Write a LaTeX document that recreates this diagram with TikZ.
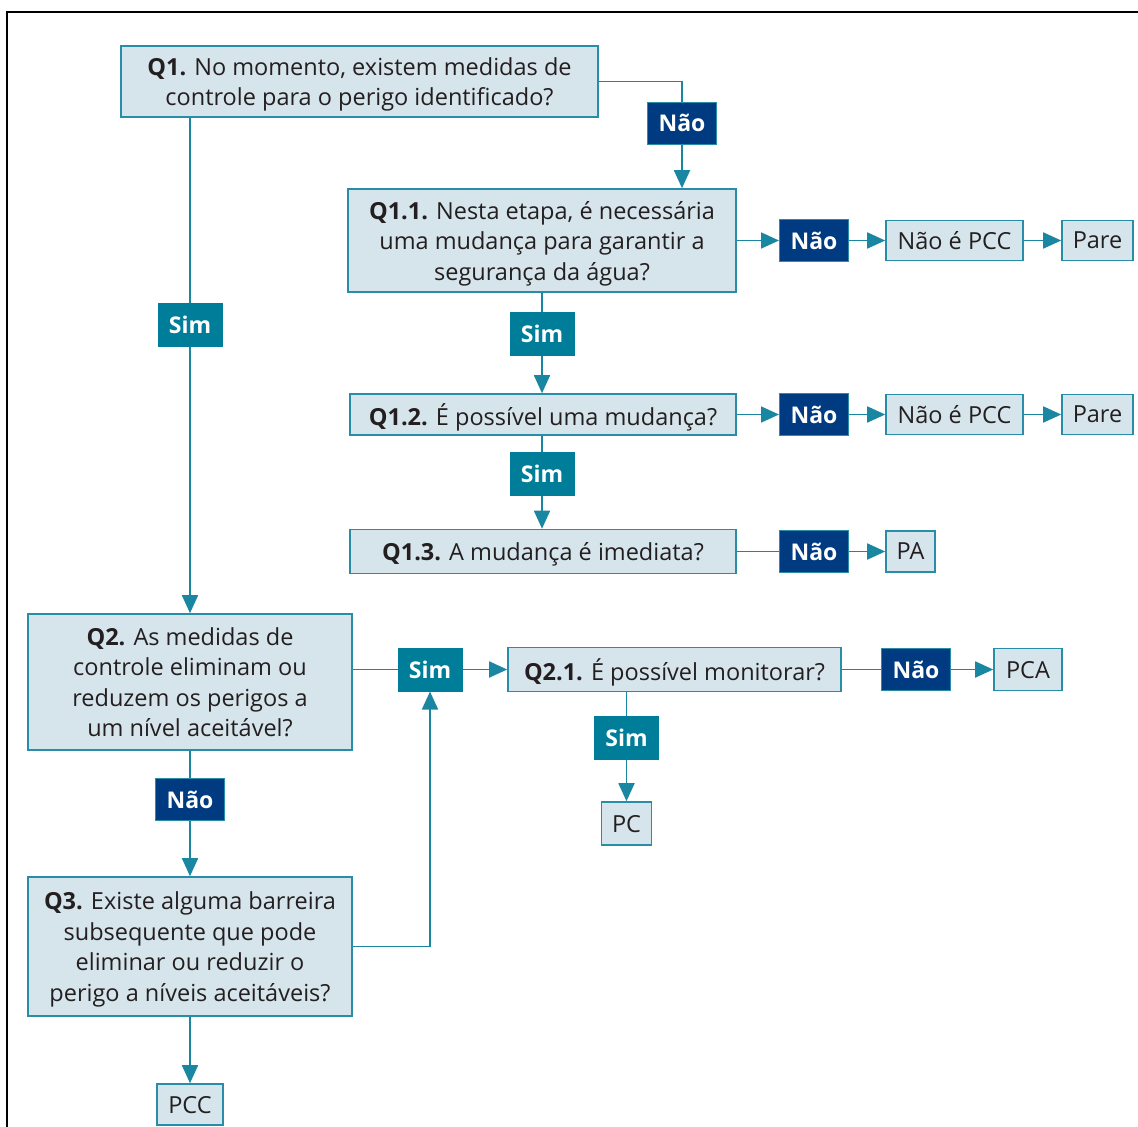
\documentclass[tikz,border=0pt]{standalone}
\usepackage{fontspec}
\setmainfont{Open Sans}
\usetikzlibrary{arrows.meta}
\definecolor{boxfill}{HTML}{D6E4EB}
\definecolor{boxline}{HTML}{2A8DA8}
\definecolor{simfill}{HTML}{007E99}
\definecolor{naofill}{HTML}{003A80}
\definecolor{txt}{HTML}{231F20}
\definecolor{conn}{HTML}{1A87A2}
\tikzset{
  qbox/.style={draw=boxline, fill=boxfill, line width=1.6pt, inner sep=0pt, align=center,
    text=txt, font=\fontsize{23.5}{30.5}\selectfont, text depth=0pt},
  ansbox/.style={qbox},
  simbox/.style={draw=simfill, fill=simfill, line width=1pt, inner sep=0pt, text=white,
    font=\fontsize{23}{26}\selectfont\bfseries, minimum width=64pt, minimum height=43pt},
  naobox/.style={draw=boxline, fill=naofill, line width=1pt, inner sep=0pt, text=white,
    font=\fontsize{23}{26}\selectfont\bfseries, minimum width=69pt, minimum height=42pt},
  conn/.style={draw=conn, line width=1.8pt},
  arr/.style={conn, -{Triangle[length=18pt,width=16pt]}},
}
\begin{document}
\begin{tikzpicture}[x=1pt,y=-1pt]
\useasboundingbox (0,0) rectangle (1138,1127);
\draw[black, line width=2pt] (7,1127) -- (7,12) -- (1138,12);
% question boxes
\node[qbox, minimum width=477pt, minimum height=71pt] (q1) at (359.5,81.5)
  {\textbf{Q1.} No momento, existem medidas de\\controle para o perigo identificado?};
\node[qbox, minimum width=388pt, minimum height=103pt] (q11) at (542,240.5)
  {\textbf{Q1.1.} Nesta etapa, é necessária\\uma mudança para garantir a\\segurança da água?};
\node[qbox, minimum width=386pt, minimum height=41pt] (q12) at (543,414.5)
  {\textbf{Q1.2.} É possível uma mudança?};
\node[qbox, minimum width=386pt, minimum height=44pt] (q13) at (543,551.5)
  {\textbf{Q1.3.} A mudança é imediata?};
\node[qbox, minimum width=324pt, minimum height=136pt] (q2) at (190,682)
  {\textbf{Q2.} As medidas de\\controle eliminam ou\\reduzem os perigos a\\um nível aceitável?};
\node[qbox, minimum width=333pt, minimum height=44pt] (q21) at (674.5,669.5)
  {\textbf{Q2.1.} É possível monitorar?};
\node[qbox, minimum width=324pt, minimum height=139pt] (q3) at (190,946.5)
  {\textbf{Q3.} Existe alguma barreira\\subsequente que pode\\eliminar ou reduzir o\\perigo a níveis aceitáveis?};
% answer boxes
\node[ansbox, minimum width=137pt, minimum height=40pt] (npcc1) at (954.5,240.5) {Não é PCC};
\node[ansbox, minimum width=71pt, minimum height=40pt] (pare1) at (1097.5,240.5) {Pare};
\node[ansbox, minimum width=137pt, minimum height=40pt] (npcc2) at (954.5,414.5) {Não é PCC};
\node[ansbox, minimum width=71pt, minimum height=40pt] (pare2) at (1097.5,414.5) {Pare};
\node[ansbox, minimum width=49pt, minimum height=41pt] (pa) at (910.5,551.5) {PA};
\node[ansbox, minimum width=68pt, minimum height=42pt] (pca) at (1028,669.5) {PCA};
\node[ansbox, minimum width=50pt, minimum height=43pt] (pc) at (626.5,823.5) {PC};
\node[ansbox, minimum width=66pt, minimum height=41pt] (pcc) at (190,1104.5) {PCC};
% label boxes
\node[naobox] (n1) at (682,123) {Não};
\node[naobox] (n11) at (814,240.5) {Não};
\node[naobox] (n12) at (814,414.5) {Não};
\node[naobox] (n13) at (814,551.5) {Não};
\node[naobox] (n21) at (916,669.5) {Não};
\node[naobox] (n2) at (190,799.5) {Não};
\node[simbox] (s11) at (542,334) {Sim};
\node[simbox] (s12) at (542,473.5) {Sim};
\node[simbox] (sl) at (190,325) {Sim};
\node[simbox] (sm) at (430,669.5) {Sim};
\node[simbox] (s21) at (626.5,737.5) {Sim};
% connectors
\draw[conn] (q1.east) -| (n1.north);
\draw[arr] (n1.south) -- (n1.south |- q11.north);
\draw[arr] (q11.east) -- (n11.west);
\draw[arr] (n11.east) -- (npcc1.west);
\draw[arr] (npcc1.east) -- (pare1.west);
\draw[conn] (q11.south -| s11.north) -- (s11.north);
\draw[arr] (s11.south) -- (s11.south |- q12.north);
\draw[arr] (q12.east) -- (n12.west);
\draw[arr] (n12.east) -- (npcc2.west);
\draw[arr] (npcc2.east) -- (pare2.west);
\draw[conn] (q12.south -| s12.north) -- (s12.north);
\draw[arr] (s12.south) -- (s12.south |- q13.north);
\draw[conn] (q13.east) -- (n13.west);
\draw[arr] (n13.east) -- (pa.west);
\draw[conn] (sl.north |- q1.south) -- (sl.north);
\draw[arr] (sl.south) -- (q2.north);
\draw[conn] (q2.east |- sm.west) -- (sm.west);
\draw[arr] (sm.east) -- (q21.west);
\draw[conn] (q21.east) -- (n21.west);
\draw[arr] (n21.east) -- (pca.west);
\draw[conn] (q21.south -| s21.north) -- (s21.north);
\draw[arr] (s21.south) -- (pc.north);
\draw[conn] (q2.south) -- (n2.north);
\draw[arr] (n2.south) -- (q3.north);
\draw[arr] (q3.east) -| (sm.south);
\draw[arr] (q3.south) -- (pcc.north);
\end{tikzpicture}
\end{document}
